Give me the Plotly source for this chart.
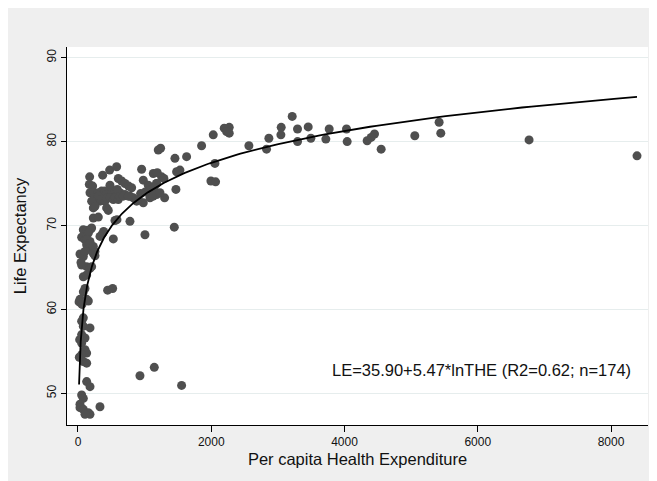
import numpy as np
import plotly.graph_objects as go

# Per capita health expenditure (THE) and life expectancy (LE)
the = [
    8390, 6770, 5420, 5445, 5055, 4550, 4450, 4400, 4340, 4040, 4030, 3770, 3720, 3495, 3455,
    3295, 3295, 3215, 3045, 3050, 2865, 2830, 2565, 2270, 2270, 2195, 2230, 2030, 1855, 2055,
    1995, 2065,
    1630, 1455, 1205, 1240, 1530, 1480, 1255, 1290, 1470, 1300, 1445, 1555, 1145, 930,
    955, 980, 1130, 1190, 1055, 1180, 940, 1010, 1080, 1140, 1180, 980, 905, 1080, 1130, 1180,
    1230, 1005, 780,
    175, 370, 475, 580, 170, 220, 605, 655, 705, 760, 805, 480,
    180, 240, 305, 355, 405, 430, 505, 555, 630, 705, 780, 830, 590,
    255, 305, 330, 355, 405, 430, 480, 530, 555, 605, 630, 680, 755, 880,
    205, 230, 255, 430, 455, 230, 305, 555, 585,
    80, 130, 180, 205, 155, 365, 385,
    55, 105, 180, 130, 330, 530,
    130, 205, 255, 180, 230,
    30, 80, 105, 230, 255,
    55, 130, 180, 205,
    80, 130,
    80, 105, 445, 520,
    30, 130, 155,
    80, 55, 80, 180,
    55, 105, 55,
    105, 130, 55, 80, 130,
    130, 180,
    55, 80, 30, 30, 80, 155, 180, 105, 330,
    16, 20, 25, 45, 60,
]
le = [
    78.3, 80.2, 82.3, 81.0, 80.7, 79.1, 80.9, 80.5, 80.1, 80.0, 81.5, 81.5, 80.3, 80.4, 81.75,
    81.5, 80.0, 83.0, 80.8, 81.7, 80.4, 79.1, 79.5, 81.7, 81.0, 81.6, 81.2, 80.8, 79.5, 77.4,
    75.3, 75.2,
    78.2, 78.0, 79.0, 79.2, 76.6, 76.4, 75.8, 75.6, 74.3, 73.3, 69.8, 50.95, 53.1, 52.1,
    76.7, 75.4, 76.2, 76.3, 74.8, 75.0, 73.8, 74.0, 74.2, 74.5, 75.0, 72.7, 73.1, 73.3, 73.5, 73.7,
    73.9, 68.9, 70.5,
    75.8, 76.0, 76.6, 77.0, 74.9, 74.7, 75.6, 75.3, 75.0, 74.7, 74.5, 74.8,
    73.9, 73.9, 73.9, 74.1, 74.1, 73.7, 73.9, 74.1, 73.9, 73.7, 73.5, 73.3, 74.3,
    73.1, 73.5, 72.9, 73.1, 72.9, 73.3, 73.3, 73.1, 73.3, 73.1, 73.5, 73.5, 73.5, 72.9,
    72.9, 72.1, 72.3, 72.1, 71.8, 70.9, 71.0, 70.6, 70.7,
    69.5, 69.4, 69.5, 69.7, 69.1, 69.0, 69.3,
    68.6, 68.3, 68.1, 68.3, 68.7, 68.4,
    67.7, 67.3, 66.9, 67.9, 67.5,
    66.6, 66.3, 66.9, 66.7, 66.4,
    65.3, 65.1, 64.9, 65.1,
    63.9, 64.1,
    62.1, 62.5, 62.3, 62.5,
    61.2, 61.2, 61.0,
    59.0, 58.6, 58.0, 57.8,
    57.0, 56.6, 56.0,
    55.2, 54.8, 54.6, 53.8, 53.6,
    51.4, 50.8,
    49.8, 49.4, 48.7, 48.3, 48.1, 47.7, 47.5, 47.5, 48.4,
    60.9, 54.3, 56.4, 65.6, 60.6,
]

# Fitted model shown on the chart: LE = a + b * ln(THE)
fit_a = 35.90
fit_b = 5.47
fit_label = "LE=35.90+5.47*lnTHE (R2=0.62; n=174)"

x_ticks = [0, 2000, 4000, 6000, 8000]
y_ticks = [50, 60, 70, 80, 90]

fit_x = np.geomspace(min(the), max(the), 300)
fit_y = fit_a + fit_b * np.log(fit_x)

fig = go.Figure()
fig.add_trace(go.Scatter(
    x=the, y=le, mode="markers",
    marker=dict(size=9, color="#4f4f4f", line=dict(width=0)),
    showlegend=False, hoverinfo="x+y",
))
fig.add_trace(go.Scatter(
    x=fit_x, y=fit_y, mode="lines",
    line=dict(color="black", width=1.8),
    showlegend=False, hoverinfo="skip",
))

fig.add_annotation(
    x=3780, y=52.8, xref="x", yref="y", text=fit_label, showarrow=False,
    xanchor="left", yanchor="middle",
    font=dict(family="Liberation Sans, Arial, sans-serif", size=16.5, color="#111111"),
)

fig.update_layout(
    width=657, height=481,
    margin=dict(l=59, r=17, t=39, b=64),
    paper_bgcolor="#efefef",
    plot_bgcolor="white",
    font=dict(family="Liberation Sans, Arial, sans-serif", size=12, color="#111111"),
    xaxis=dict(
        range=[-165, 8555], tickvals=x_ticks, ticktext=[str(v) for v in x_ticks],
        showgrid=False, zeroline=False,
        showline=True, linecolor="black", linewidth=1,
        ticks="outside", ticklen=6, tickcolor="black", tickwidth=1,
        tickfont=dict(size=12),
        title=dict(text="Per capita Health Expenditure", font=dict(size=16.5), standoff=5),
    ),
    yaxis=dict(
        range=[46.23, 91.27], tickvals=y_ticks, ticktext=[str(v) for v in y_ticks],
        showgrid=True, gridcolor="#e6eded", gridwidth=1, zeroline=False,
        showline=True, linecolor="black", linewidth=1,
        ticks="outside", ticklen=5, tickcolor="black", tickwidth=1,
        tickangle=-90, tickfont=dict(size=12),
        title=dict(text="Life Expectancy", font=dict(size=16.5), standoff=14),
    ),
)

fig.write_html("out.html")
